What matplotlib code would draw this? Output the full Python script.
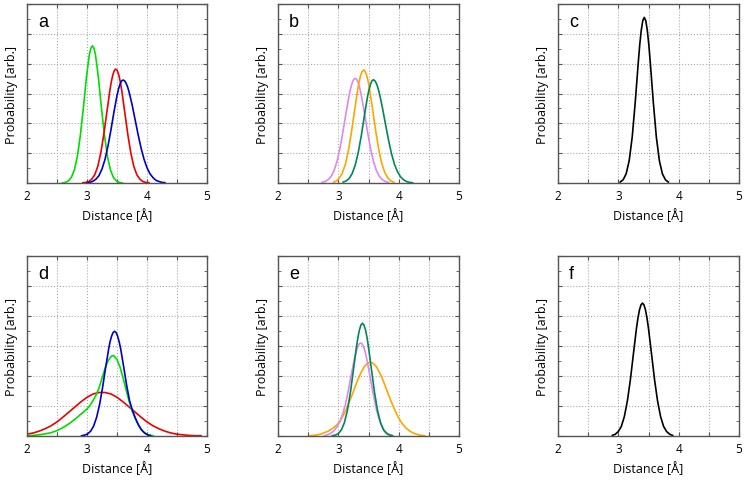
import matplotlib
matplotlib.use("Agg")
import matplotlib.pyplot as plt
from matplotlib.ticker import MultipleLocator, FuncFormatter

# ------------------------------------------------------------
# Curves (distance in Angstrom, prob. arb.)
# ------------------------------------------------------------

# panel a
a_green_x = [2.59, 2.64, 2.69, 2.74, 2.79, 2.84, 2.89, 2.94, 2.99, 3.015, 3.04, 3.065,
             3.09, 3.115, 3.14, 3.165, 3.19, 3.24, 3.29, 3.34, 3.39, 3.44, 3.49,
             3.54, 3.59]
a_green_y = [0.00, 0.02, 0.07, 0.19, 0.44, 0.90, 1.61, 2.53, 3.53, 3.94, 4.31, 4.52,
             4.60, 4.52, 4.31, 3.94, 3.53, 2.53, 1.61, 0.90, 0.44, 0.19, 0.07,
             0.02, 0.00]
a_red_x = [2.93, 2.98, 3.03, 3.08, 3.13, 3.18, 3.23, 3.28, 3.33, 3.38, 3.405, 3.43,
           3.455, 3.48, 3.505, 3.53, 3.555, 3.58, 3.63, 3.68, 3.73, 3.78, 3.83, 3.88,
           3.93, 3.98, 4.03]
a_red_y = [0.01, 0.02, 0.05, 0.13, 0.28, 0.56, 1.01, 1.63, 2.36, 3.09, 3.39, 3.62,
           3.77, 3.82, 3.77, 3.62, 3.39, 3.09, 2.36, 1.63, 1.01, 0.56, 0.28, 0.13,
           0.05, 0.02, 0.01]
a_blue_x = [3.00, 3.05, 3.10, 3.15, 3.20, 3.25, 3.30, 3.35, 3.40, 3.45, 3.50, 3.525,
            3.55, 3.575, 3.60, 3.625, 3.65, 3.675, 3.70, 3.75, 3.80, 3.85, 3.90, 3.95,
            4.00, 4.05, 4.10, 4.15, 4.20, 4.25, 4.30]
a_blue_y = [0.01, 0.02, 0.06, 0.13, 0.25, 0.47, 0.79, 1.24, 1.79, 2.39, 2.93, 3.15,
            3.31, 3.42, 3.45, 3.43, 3.35, 3.23, 3.06, 2.64, 2.14, 1.64, 1.18, 0.80,
            0.51, 0.31, 0.18, 0.09, 0.05, 0.02, 0.01]

# panel b
b_violet_x = [2.73, 2.78, 2.83, 2.88, 2.93, 2.98, 3.03, 3.08, 3.13, 3.18, 3.205, 3.23,
              3.255, 3.28, 3.305, 3.33, 3.355, 3.38, 3.43, 3.48, 3.53, 3.58, 3.63,
              3.68, 3.73, 3.78, 3.83]
b_violet_y = [0.02, 0.05, 0.11, 0.22, 0.42, 0.74, 1.19, 1.76, 2.38, 2.95, 3.18, 3.36,
              3.47, 3.51, 3.47, 3.36, 3.18, 2.95, 2.38, 1.76, 1.19, 0.74, 0.42,
              0.22, 0.11, 0.05, 0.02]
b_orange_x = [2.92, 2.97, 3.02, 3.07, 3.12, 3.17, 3.22, 3.27, 3.32, 3.345, 3.37, 3.395,
              3.42, 3.445, 3.47, 3.495, 3.52, 3.57, 3.62, 3.67, 3.72, 3.77, 3.82,
              3.87, 3.92]
b_orange_y = [0.03, 0.07, 0.17, 0.35, 0.65, 1.12, 1.74, 2.44, 3.12, 3.40, 3.61, 3.74,
              3.79, 3.74, 3.61, 3.40, 3.12, 2.44, 1.74, 1.12, 0.65, 0.35, 0.17,
              0.07, 0.03]
b_dgreen_x = [3.08, 3.13, 3.18, 3.23, 3.28, 3.33, 3.38, 3.43, 3.48, 3.505, 3.53, 3.555,
              3.58, 3.605, 3.63, 3.655, 3.68, 3.73, 3.78, 3.83, 3.88, 3.93, 3.98,
              4.03, 4.08, 4.13, 4.18, 4.23]
b_dgreen_y = [0.03, 0.07, 0.15, 0.32, 0.60, 1.02, 1.58, 2.23, 2.85, 3.10, 3.29, 3.42,
              3.46, 3.43, 3.34, 3.20, 3.01, 2.53, 1.99, 1.46, 0.99, 0.63, 0.38,
              0.21, 0.11, 0.05, 0.02, 0.01]

# panel c
c_black_x = [3.03, 3.08, 3.13, 3.18, 3.23, 3.28, 3.33, 3.355, 3.38, 3.405, 3.43,
             3.455, 3.48, 3.505, 3.53, 3.58, 3.63, 3.68, 3.73, 3.78, 3.83]
c_black_y = [0.03, 0.11, 0.31, 0.75, 1.54, 2.70, 4.03, 4.64, 5.12, 5.44, 5.55,
             5.44, 5.12, 4.64, 4.03, 2.70, 1.54, 0.75, 0.31, 0.11, 0.03]

# panel d
d_red_x = [2.0, 2.1, 2.2, 2.3, 2.4, 2.5, 2.6, 2.7, 2.8, 2.9, 3.0, 3.1, 3.2, 3.3, 3.4,
           3.5, 3.6, 3.7, 3.8, 3.9, 4.0, 4.1, 4.2, 4.3, 4.4, 4.5, 4.6, 4.7, 4.8, 4.9]
d_red_y = [0.06, 0.10, 0.16, 0.24, 0.34, 0.47, 0.63, 0.80, 0.97, 1.14, 1.29, 1.40,
           1.45, 1.45, 1.40, 1.29, 1.14, 0.97, 0.80, 0.63, 0.47, 0.34, 0.24, 0.16,
           0.10, 0.06, 0.04, 0.02, 0.01, 0.01]
d_green_x = [2.0, 2.1, 2.2, 2.3, 2.4, 2.5, 2.6, 2.7, 2.8, 2.9, 3.0, 3.05, 3.1, 3.15,
             3.2, 3.25, 3.3, 3.35, 3.4, 3.43, 3.45, 3.5, 3.55, 3.6, 3.65, 3.7, 3.75,
             3.8, 3.85, 3.9, 3.95, 4.0, 4.1]
d_green_y = [0.01, 0.02, 0.04, 0.07, 0.11, 0.18, 0.28, 0.41, 0.56, 0.73, 0.90, 1.02,
             1.18, 1.36, 1.60, 1.92, 2.25, 2.50, 2.65, 2.68, 2.67, 2.55, 2.30, 1.95,
             1.55, 1.17, 0.85, 0.60, 0.39, 0.23, 0.12, 0.05, 0.01]
d_blue_x = [2.91, 2.96, 3.01, 3.06, 3.11, 3.16, 3.21, 3.26, 3.31, 3.36, 3.385, 3.41,
            3.435, 3.46, 3.485, 3.51, 3.535, 3.56, 3.61, 3.66, 3.71, 3.76, 3.81, 3.86,
            3.91, 3.96, 4.01, 4.06]
d_blue_y = [0.01, 0.03, 0.07, 0.16, 0.33, 0.62, 1.05, 1.62, 2.28, 2.89, 3.15, 3.33,
            3.45, 3.49, 3.45, 3.33, 3.15, 2.92, 2.32, 1.70, 1.17, 0.84, 0.58, 0.36,
            0.20, 0.10, 0.04, 0.01]

# panel e
e_orange_x = [2.53, 2.58, 2.63, 2.68, 2.73, 2.78, 2.83, 2.88, 2.93, 2.98, 3.03, 3.08,
              3.13, 3.18, 3.23, 3.28, 3.33, 3.38, 3.43, 3.48, 3.53, 3.58, 3.63, 3.68,
              3.73, 3.78, 3.83, 3.88, 3.93, 3.98, 4.03, 4.08, 4.13, 4.18, 4.23, 4.28,
              4.33, 4.38, 4.43]
e_orange_y = [0.01, 0.02, 0.03, 0.05, 0.08, 0.12, 0.16, 0.22, 0.29, 0.38, 0.50, 0.68,
              0.89, 1.13, 1.38, 1.65, 1.91, 2.13, 2.31, 2.42, 2.46, 2.42, 2.31, 2.13,
              1.91, 1.65, 1.38, 1.13, 0.89, 0.68, 0.50, 0.36, 0.25, 0.17, 0.11, 0.07,
              0.04, 0.02, 0.01]
e_violet_x = [2.77, 2.82, 2.87, 2.92, 2.97, 3.02, 3.07, 3.12, 3.17, 3.22, 3.27, 3.295,
              3.32, 3.345, 3.37, 3.395, 3.42, 3.445, 3.47, 3.52, 3.57, 3.62, 3.67,
              3.72, 3.77, 3.82, 3.87]
e_violet_y = [0.01, 0.04, 0.08, 0.16, 0.28, 0.46, 0.72, 1.07, 1.56, 2.10, 2.60, 2.80,
              2.97, 3.07, 3.10, 3.07, 2.96, 2.80, 2.58, 2.05, 1.49, 0.98, 0.59,
              0.33, 0.16, 0.08, 0.03]
e_dgreen_x = [2.90, 2.95, 3.00, 3.05, 3.10, 3.15, 3.20, 3.25, 3.30, 3.325, 3.35, 3.375,
              3.40, 3.425, 3.45, 3.475, 3.50, 3.55, 3.60, 3.65, 3.70, 3.75, 3.80,
              3.85, 3.90]
e_dgreen_y = [0.01, 0.03, 0.08, 0.20, 0.44, 0.85, 1.45, 2.20, 2.96, 3.29, 3.54, 3.70,
              3.76, 3.70, 3.54, 3.29, 2.96, 2.20, 1.45, 0.85, 0.44, 0.20, 0.08,
              0.03, 0.01]

# panel f
f_black_x = [2.90, 2.95, 3.00, 3.05, 3.10, 3.15, 3.20, 3.25, 3.30, 3.325, 3.35, 3.375,
             3.40, 3.425, 3.45, 3.475, 3.50, 3.55, 3.60, 3.65, 3.70, 3.75, 3.80,
             3.85, 3.90]
f_black_y = [0.02, 0.06, 0.15, 0.32, 0.65, 1.17, 1.88, 2.74, 3.58, 3.93, 4.20, 4.37,
             4.43, 4.37, 4.20, 3.93, 3.58, 2.74, 1.88, 1.17, 0.65, 0.32, 0.15,
             0.06, 0.02]

GREEN = "#00dd00"
RED = "#ee0000"
BLUE = "#0000cc"
VIOLET = "#dd88ee"
ORANGE = "#ffa500"
DGREEN = "#008856"

panels = [
    ("a", [(a_green_x, a_green_y, GREEN), (a_red_x, a_red_y, RED), (a_blue_x, a_blue_y, BLUE)]),
    ("b", [(b_violet_x, b_violet_y, VIOLET), (b_orange_x, b_orange_y, ORANGE),
           (b_dgreen_x, b_dgreen_y, DGREEN)]),
    ("c", [(c_black_x, c_black_y, "black")]),
    ("d", [(d_red_x, d_red_y, RED), (d_green_x, d_green_y, GREEN), (d_blue_x, d_blue_y, BLUE)]),
    ("e", [(e_orange_x, e_orange_y, ORANGE), (e_violet_x, e_violet_y, VIOLET),
           (e_dgreen_x, e_dgreen_y, DGREEN)]),
    ("f", [(f_black_x, f_black_y, "black")]),
]

# axes boxes in pixels on a 746x481 canvas
W, H = 746, 481
col_px = [(27, 207), (278, 459), (558, 739)]
row_px = [(5, 184), (257, 437)]

plt.rcParams["font.family"] = ["Open Sans", "DejaVu Sans"]

fig = plt.figure(figsize=(W / 100, H / 100), dpi=100)

for i, (letter, curves) in enumerate(panels):
    r, c = divmod(i, 3)
    x0, x1 = col_px[c]
    y0, y1 = row_px[r]
    ax = fig.add_axes([x0 / W, 1 - y1 / H, (x1 - x0) / W, (y1 - y0) / H])

    for xs, ys, col in curves:
        ax.plot(xs, ys, color=col, lw=1.2, solid_joinstyle="round")

    ax.set_xlim(2, 5)
    ax.set_ylim(0, 6)
    ax.xaxis.set_major_locator(MultipleLocator(0.5))
    ax.xaxis.set_major_formatter(
        FuncFormatter(lambda v, p: f"{v:.0f}" if abs(v - round(v)) < 1e-6 else ""))
    ax.yaxis.set_major_locator(MultipleLocator(1))
    ax.yaxis.set_minor_locator(MultipleLocator(0.5))
    ax.set_yticklabels([])
    ax.tick_params(which="both", direction="in", top=True, right=True,
                   color="#555555", labelsize=8.5, pad=4)
    ax.tick_params(which="major", length=3, width=0.8)
    ax.tick_params(which="minor", length=2, width=0.6)
    ax.grid(True, which="major", linestyle=":", color="#aaaaaa", lw=0.8)
    for s in ax.spines.values():
        s.set_color("#555555")
        s.set_linewidth(1.0)

    ax.set_xlabel("Distance [Å]", fontsize=9)
    ax.xaxis.set_label_coords(0.5, -0.14)
    ax.set_ylabel("Probability [arb.]", fontsize=9)
    ax.yaxis.set_label_coords(-0.05, 0.5)

    ax.text(0.06, 0.905, letter, transform=ax.transAxes, fontsize=13,
            family="Liberation Sans", ha="left", va="center")

fig.savefig("out.png", dpi=100)
